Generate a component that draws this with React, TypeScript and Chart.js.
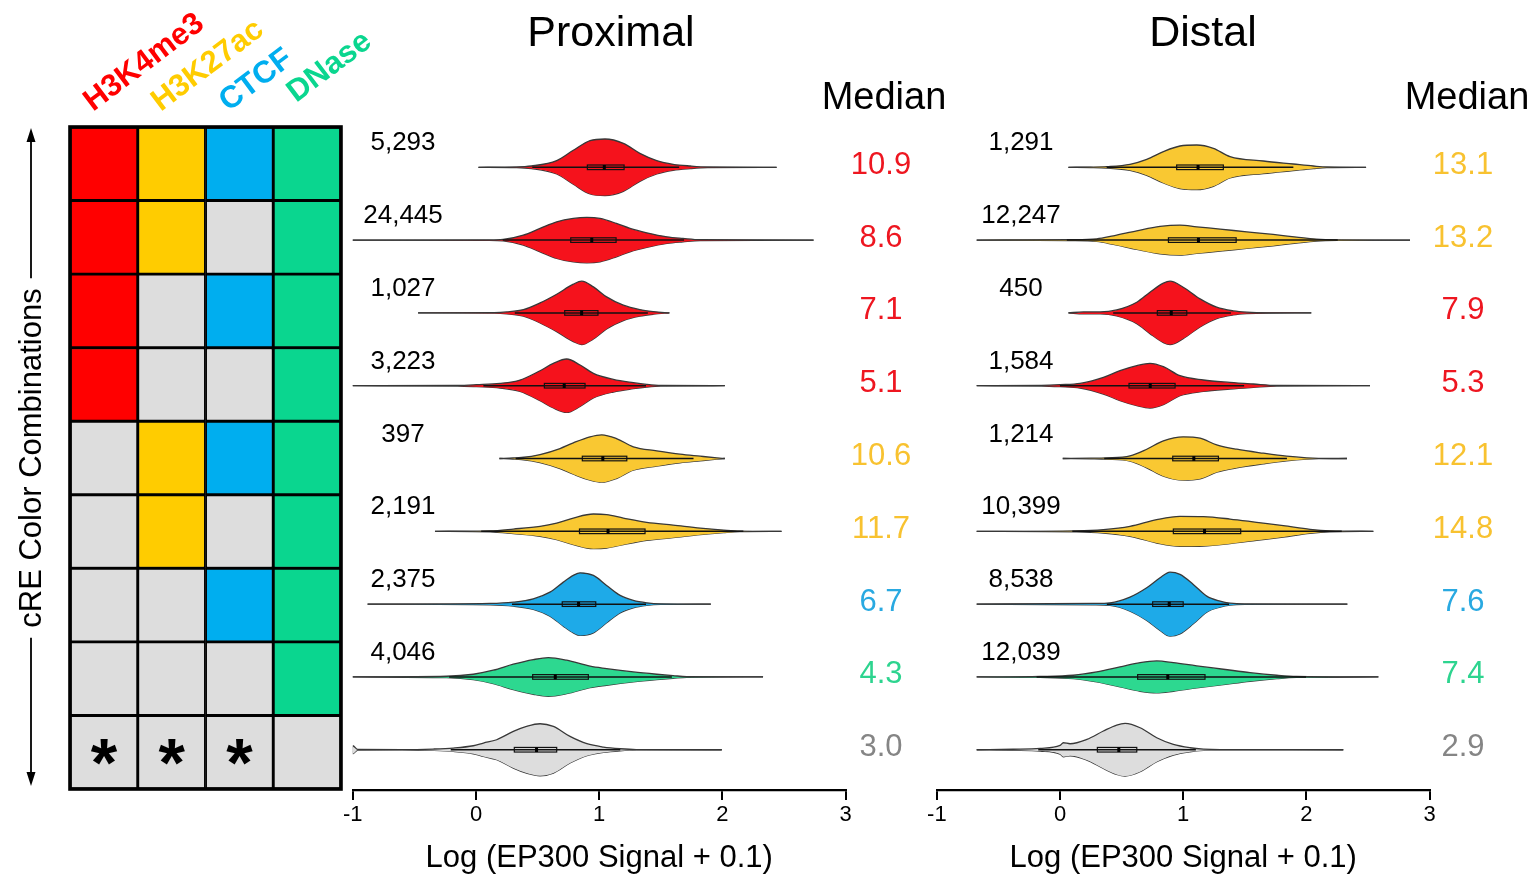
import React, { useEffect, useRef } from 'react';
import { Chart, registerables } from 'chart.js';

Chart.register(...registerables);

const W = 1534;
const H = 877;
const FONT = '"Liberation Sans", Arial, Helvetica, sans-serif';

// ---------- grid (cRE colour combinations) ----------
const MARKS = ['H3K4me3', 'H3K27ac', 'CTCF', 'DNase'];
const MARK_COLORS = ['#FF0000', '#FFCC00', '#00AEEF', '#0AD68F'];
const H3K4ME3_ON = [1, 1, 1, 1, 0, 0, 0, 0, 0];
const H3K27AC_ON = [1, 1, 0, 0, 1, 1, 0, 0, 0];
const CTCF_ON = [1, 0, 1, 0, 1, 0, 1, 0, 0];
const DNASE_ON = [1, 1, 1, 1, 1, 1, 1, 1, 0];
const LAST_ROW_SYMBOLS = ['*', '*', '*', ''];
const GRID_GRAY = '#DDDDDD';
const Y_LABEL = 'cRE Color Combinations';

// ---------- violin panels ----------
const X_TICKS = [-1, 0, 1, 2, 3];
const X_TITLE = 'Log (EP300 Signal + 0.1)';

const PROX_COUNTS = ['5,293', '24,445', '1,027', '3,223', '397', '2,191', '2,375', '4,046', ''];
const PROX_MEDIANS = [10.9, 8.6, 7.1, 5.1, 10.6, 11.7, 6.7, 4.3, 3.0];
const PROX_CLASSES = ['red', 'red', 'red', 'red', 'yellow', 'yellow', 'blue', 'green', 'gray'];
const PROX_Q1 = [0.904, 0.769, 0.72, 0.555, 0.863, 0.84, 0.7, 0.46, 0.311];
const PROX_Q3 = [1.202, 1.137, 0.99, 0.885, 1.224, 1.372, 0.972, 0.912, 0.655];
// [log value, density half-width]
const PROX_DENSITY = [
  [[0.02, 0], [0.33, 0.3], [0.45, 1.3], [0.655, 6.7], [0.79, 17], [0.926, 26.7], [1.047, 28.3], [1.196, 24], [1.33, 14], [1.467, 6.7], [1.6, 3], [1.74, 1.3], [1.88, 0.3], [2.44, 0]],
  [[-1.01, 0], [0.1, 0.2], [0.22, 0.7], [0.384, 5], [0.52, 11.7], [0.655, 18.3], [0.79, 21.7], [0.9, 22.7], [1.007, 21.7], [1.14, 16.7], [1.25, 11.7], [1.386, 7.3], [1.55, 3.3], [1.68, 1.7], [1.82, 0.4], [2.74, 0]],
  [[-0.47, 0], [0.15, 0.3], [0.25, 1], [0.385, 3.3], [0.52, 10], [0.655, 18.7], [0.79, 28.7], [0.858, 31.7], [0.953, 26], [1.06, 16], [1.196, 7.7], [1.33, 3.3], [1.44, 1.3], [1.53, 0.3], [1.57, 0]],
  [[-1.01, 0], [-0.15, 0.3], [0.005, 1], [0.195, 2.3], [0.357, 5.7], [0.52, 15], [0.628, 22.3], [0.736, 26.7], [0.845, 20.7], [0.953, 12.3], [1.115, 6.3], [1.277, 3], [1.386, 1.3], [1.5, 0.3], [2.02, 0]],
  [[0.19, 0], [0.3, 0.5], [0.37, 1], [0.52, 4], [0.682, 10], [0.79, 15.7], [0.926, 21.7], [1.02, 23.7], [1.14, 20], [1.277, 11.7], [1.467, 7.7], [1.656, 4.3], [1.82, 2.3], [1.955, 0.7], [2.02, 0]],
  [[-0.333, 0], [0.114, 0.5], [0.303, 2.3], [0.52, 5], [0.655, 8.3], [0.79, 13.3], [0.953, 17.3], [1.06, 16.7], [1.196, 13.3], [1.386, 9], [1.6, 6.3], [1.82, 3.3], [2.01, 1.3], [2.14, 0.3], [2.48, 0]],
  [[-0.88, 0], [0.114, 0.7], [0.303, 2], [0.465, 5.3], [0.6, 12], [0.709, 22], [0.79, 28.7], [0.845, 31.3], [0.953, 28.7], [1.06, 18.7], [1.17, 8.7], [1.277, 3.7], [1.386, 1.3], [1.5, 0.3], [1.906, 0]],
  [[-1.01, 0], [-0.238, 0.7], [-0.022, 2.7], [0.14, 6.7], [0.303, 12.7], [0.465, 17.3], [0.587, 19.3], [0.736, 16.7], [0.926, 10.7], [1.06, 8.3], [1.277, 5], [1.467, 2.7], [1.6, 1.3], [1.71, 0.3], [2.33, 0]],
  [[-1.006, 0], [-1.0, 4], [-0.96, 0.3], [-0.6, 0.1], [-0.347, 0.7], [-0.184, 1.7], [-0.022, 4], [0.06, 6.7], [0.168, 10], [0.303, 18.3], [0.41, 23.3], [0.52, 26], [0.628, 23.3], [0.763, 13.3], [0.9, 6], [1.034, 2.7], [1.17, 1], [1.3, 0.2], [1.995, 0]],
];

const DIST_COUNTS = ['1,291', '12,247', '450', '1,584', '1,214', '10,399', '8,538', '12,039', ''];
const DIST_MEDIANS = [13.1, 13.2, 7.9, 5.3, 12.1, 14.8, 7.6, 7.4, 2.9];
const DIST_CLASSES = ['yellow', 'yellow', 'red', 'red', 'yellow', 'yellow', 'blue', 'green', 'gray'];
const DIST_Q1 = [0.947, 0.88, 0.79, 0.56, 0.915, 0.92, 0.752, 0.63, 0.303];
const DIST_Q3 = [1.326, 1.43, 1.029, 0.934, 1.286, 1.467, 1.0, 1.177, 0.623];
const DIST_DENSITY = [
  [[0.068, 0], [0.25, 0.2], [0.379, 0.7], [0.568, 3], [0.704, 8], [0.839, 15.7], [0.974, 21.3], [1.11, 22.3], [1.245, 19], [1.38, 10.7], [1.651, 6.3], [1.894, 3.3], [2.057, 1.3], [2.166, 0.3], [2.485, 0]],
  [[-0.677, 0], [0.081, 0.5], [0.298, 1.3], [0.433, 4.3], [0.623, 9.3], [0.812, 13.7], [0.974, 15], [1.11, 13.3], [1.3, 11], [1.516, 8.3], [1.73, 5.7], [1.92, 3], [2.08, 1], [2.25, 0.3], [2.842, 0]],
  [[0.068, 0], [0.19, 1], [0.325, 1], [0.46, 3], [0.623, 10.7], [0.73, 20.7], [0.839, 29.7], [0.893, 31.7], [1.0, 25.7], [1.137, 14], [1.272, 5.7], [1.407, 2], [1.516, 0.7], [1.7, 0.1], [2.04, 0]],
  [[-0.677, 0], [-0.15, 0.3], [0.0, 1], [0.162, 2.3], [0.352, 8.3], [0.487, 15], [0.623, 20], [0.73, 22.3], [0.839, 19], [0.974, 10], [1.164, 5.7], [1.38, 3.3], [1.57, 1.7], [1.76, 0.3], [2.517, 0]],
  [[0.022, 0], [0.25, 0.3], [0.379, 0.7], [0.568, 2.7], [0.704, 9.3], [0.839, 17.7], [1.0, 21.7], [1.137, 20.3], [1.272, 13.7], [1.435, 9.3], [1.651, 5.3], [1.84, 2.3], [2.003, 0.7], [2.1, 0.2], [2.33, 0]],
  [[-0.677, 0], [0.135, 0.5], [0.352, 1.7], [0.568, 5], [0.785, 11.7], [0.974, 15], [1.164, 14.7], [1.38, 12.3], [1.597, 9], [1.813, 5.7], [2.03, 2], [2.19, 0.5], [2.544, 0]],
  [[-0.677, 0], [0.27, 0.7], [0.406, 1.3], [0.568, 7], [0.704, 16.3], [0.812, 26.3], [0.893, 32], [0.974, 29.7], [1.082, 19.7], [1.191, 8], [1.3, 3], [1.38, 1], [1.5, 0.2], [2.333, 0]],
  [[-0.677, 0], [-0.162, 0.5], [0.108, 1.7], [0.298, 5], [0.487, 10], [0.65, 14.3], [0.785, 16], [0.92, 14.3], [1.11, 11], [1.326, 7.7], [1.543, 4.3], [1.76, 1.7], [1.92, 0.5], [2.585, 0]],
  [[-0.677, 0], [-0.38, 0.5], [-0.162, 1.3], [0.0, 4.3], [0.027, 7], [0.081, 6], [0.217, 10.3], [0.352, 18.7], [0.46, 24.7], [0.528, 26.3], [0.65, 22], [0.785, 12], [0.92, 5.3], [1.056, 2], [1.164, 0.7], [1.3, 0.2], [2.3, 0]],
];

const VIOLIN_FILL: Record<string, string> = {
  red: '#F5121C',
  yellow: '#F9C832',
  blue: '#1EAAE8',
  green: '#2DD890',
  gray: '#DDDDDD',
};
const MEDIAN_TEXT: Record<string, string> = {
  red: '#EE1620',
  yellow: '#F8C230',
  blue: '#29A9E1',
  green: '#2DD48F',
  gray: '#858585',
};
const OUTLINE = '#383838';
const DENSITY_TO_ROW = 1 / 72.8; // density units -> row spacing units

const PANELS = [
  {
    title: 'Proximal', density: PROX_DENSITY, classes: PROX_CLASSES, q1: PROX_Q1, q3: PROX_Q3,
    medians: PROX_MEDIANS, counts: PROX_COUNTS,
    left: 352.8, right: 845.6, titleX: 611, countX: 403, medianX: 881, medianHeadX: 884,
  },
  {
    title: 'Distal', density: DIST_DENSITY, classes: DIST_CLASSES, q1: DIST_Q1, q3: DIST_Q3,
    medians: DIST_MEDIANS, counts: DIST_COUNTS,
    left: 936.9, right: 1429.5, titleX: 1203, countX: 1021, medianX: 1463, medianHeadX: 1467,
  },
];

function gridConfig(): any {
  const on = [H3K4ME3_ON, H3K27AC_ON, CTCF_ON, DNASE_ON];
  const rows = H3K4ME3_ON.length;
  const datasets = [];
  for (let r = 0; r < rows; r++) {
    datasets.push({
      data: MARKS.map(() => [r, r + 1]),
      backgroundColor: MARKS.map((_, c) => (on[c][r] ? MARK_COLORS[c] : GRID_GRAY)),
      borderColor: '#000',
      borderWidth: 1.8,
      borderSkipped: false,
      grouped: false,
      barPercentage: 1,
      categoryPercentage: 1,
    });
  }
  const decor = {
    id: 'gridDecor',
    afterDraw(chart: any) {
      const ctx = chart.ctx;
      const xs = chart.scales.x;
      const ys = chart.scales.y;
      const ca = chart.chartArea;
      ctx.save();
      // frame
      ctx.strokeStyle = '#000';
      ctx.lineWidth = 3.6;
      ctx.strokeRect(ca.left, ca.top, ca.right - ca.left, ca.bottom - ca.top);
      // symbols in last row
      ctx.fillStyle = '#000';
      ctx.font = `bold 68px ${FONT}`;
      ctx.textAlign = 'center';
      ctx.textBaseline = 'alphabetic';
      LAST_ROW_SYMBOLS.forEach((s, c) => {
        if (!s) return;
        const m = ctx.measureText(s);
        const cx = xs.getPixelForValue(c);
        const cy = ys.getPixelForValue(rows - 0.5);
        const y = cy + (m.actualBoundingBoxAscent - m.actualBoundingBoxDescent) / 2;
        ctx.fillText(s, cx, y);
      });
      // column headers
      ctx.font = `bold 31px ${FONT}`;
      ctx.textAlign = 'left';
      MARKS.forEach((t, c) => {
        const cx = xs.getPixelForValue(c) - 11;
        const cy = ca.top - 15 - (c === 3 ? 9 : 0);
        ctx.save();
        ctx.translate(cx, cy);
        ctx.rotate((-37 * Math.PI) / 180);
        ctx.fillStyle = MARK_COLORS[c];
        ctx.fillText(t, 0, 0);
        ctx.restore();
      });
      // left label with double arrow
      const ax = 31;
      const midY = (ca.top + ca.bottom) / 2;
      ctx.font = `31px ${FONT}`;
      const tw = ctx.measureText(Y_LABEL).width;
      ctx.save();
      ctx.translate(ax + 1, midY);
      ctx.rotate(-Math.PI / 2);
      ctx.textAlign = 'center';
      ctx.textBaseline = 'middle';
      ctx.fillStyle = '#000';
      ctx.fillText(Y_LABEL, 0, 0);
      ctx.restore();
      const top = ca.top + 1;
      const bot = ca.bottom - 3;
      ctx.strokeStyle = '#000';
      ctx.lineWidth = 1.8;
      ctx.beginPath();
      ctx.moveTo(ax, top + 8);
      ctx.lineTo(ax, midY - tw / 2 - 10);
      ctx.moveTo(ax, midY + tw / 2 + 10);
      ctx.lineTo(ax, bot - 8);
      ctx.stroke();
      ctx.beginPath();
      ctx.moveTo(ax, top);
      ctx.lineTo(ax - 4.5, top + 14);
      ctx.lineTo(ax + 4.5, top + 14);
      ctx.closePath();
      ctx.moveTo(ax, bot);
      ctx.lineTo(ax - 4.5, bot - 14);
      ctx.lineTo(ax + 4.5, bot - 14);
      ctx.closePath();
      ctx.fill();
      ctx.restore();
    },
  };
  return {
    type: 'bar',
    data: { labels: MARKS, datasets },
    options: {
      animation: false,
      responsive: false,
      devicePixelRatio: 1,
      layout: { padding: { left: 70, right: W - 341, top: 127, bottom: H - 789 } },
      scales: {
        x: { display: false },
        y: { display: false, min: 0, max: rows, reverse: true },
      },
      plugins: { legend: { display: false }, tooltip: { enabled: false } },
    },
    plugins: [decor],
  };
}

function violinConfig(p: any): any {
  const datasets: any[] = [];
  p.density.forEach((prof: number[][], i: number) => {
    const row = i + 1;
    const fill = VIOLIN_FILL[p.classes[i]];
    const common = {
      borderColor: OUTLINE,
      borderWidth: 1.3,
      pointRadius: 0,
      cubicInterpolationMode: 'monotone',
      backgroundColor: fill,
    };
    datasets.push({ ...common, data: prof.map(([x, w]) => ({ x, y: row - w * DENSITY_TO_ROW })), fill: '+1' });
    datasets.push({ ...common, data: prof.map(([x, w]) => ({ x, y: row + w * DENSITY_TO_ROW })), fill: false });
  });

  const decor = {
    id: 'violinDecor',
    afterDatasetsDraw(chart: any) {
      const ctx = chart.ctx;
      const xs = chart.scales.x;
      const ys = chart.scales.y;
      ctx.save();
      p.density.forEach((prof: number[][], i: number) => {
        const row = i + 1;
        const cy = ys.getPixelForValue(row);
        const q1 = p.q1[i];
        const q3 = p.q3[i];
        const iqr = q3 - q1;
        const lo = Math.max(prof[0][0], q1 - 1.5 * iqr);
        const hi = Math.min(prof[prof.length - 1][0], q3 + 1.5 * iqr);
        const med = Math.log10(p.medians[i] + 0.1);
        ctx.strokeStyle = '#111';
        ctx.lineWidth = 1.5;
        ctx.beginPath();
        ctx.moveTo(xs.getPixelForValue(lo), cy);
        ctx.lineTo(xs.getPixelForValue(hi), cy);
        ctx.stroke();
        const bx1 = xs.getPixelForValue(q1);
        const bx2 = xs.getPixelForValue(q3);
        ctx.lineWidth = 1.2;
        ctx.strokeRect(bx1, cy - 2.3, bx2 - bx1, 4.6);
        ctx.fillStyle = '#000';
        ctx.fillRect(xs.getPixelForValue(med) - 1.5, cy - 2.3, 3, 4.6);
      });
      // counts
      ctx.fillStyle = '#000';
      ctx.font = `26px ${FONT}`;
      ctx.textAlign = 'center';
      ctx.textBaseline = 'middle';
      p.counts.forEach((c: string, i: number) => {
        if (!c) return;
        ctx.fillText(c, p.countX, ys.getPixelForValue(i + 1) - 24);
      });
      // medians
      ctx.font = `31px ${FONT}`;
      p.medians.forEach((m: number, i: number) => {
        ctx.fillStyle = MEDIAN_TEXT[p.classes[i]];
        ctx.fillText(m.toFixed(1), p.medianX, ys.getPixelForValue(i + 1) - 2);
      });
      // headers
      ctx.fillStyle = '#000';
      ctx.textBaseline = 'alphabetic';
      ctx.font = `43px ${FONT}`;
      ctx.fillText(p.title, p.titleX, 46);
      ctx.font = `38px ${FONT}`;
      ctx.fillText('Median', p.medianHeadX, 109);
      ctx.restore();
    },
  };

  return {
    type: 'line',
    data: { datasets },
    options: {
      animation: false,
      responsive: false,
      devicePixelRatio: 1,
      layout: { padding: { left: p.left, right: W - p.right, top: 130.9, bottom: 0 } },
      scales: {
        x: {
          type: 'linear',
          min: X_TICKS[0],
          max: X_TICKS[X_TICKS.length - 1],
          position: 'bottom',
          afterBuildTicks: (s: any) => { s.ticks = X_TICKS.map((v) => ({ value: v })); },
          ticks: { color: '#000', font: { size: 22, family: FONT }, padding: 2, maxRotation: 0 },
          grid: { drawOnChartArea: false, drawTicks: true, tickLength: 10, color: '#000', lineWidth: 2 },
          border: { display: true, color: '#000', width: 2.2 },
          title: { display: true, text: X_TITLE, color: '#000', font: { size: 31, family: FONT }, padding: { top: 0, bottom: 0 } },
          afterFit: (s: any) => { s.height = H - 790; },
        },
        y: { type: 'linear', display: false, min: 0.5, max: 9.553, reverse: true },
      },
      plugins: { legend: { display: false }, tooltip: { enabled: false } },
    },
    plugins: [decor],
  };
}

export default function App() {
  const gridRef = useRef<HTMLCanvasElement>(null);
  const proxRef = useRef<HTMLCanvasElement>(null);
  const distRef = useRef<HTMLCanvasElement>(null);

  useEffect(() => {
    const charts = [
      new Chart(gridRef.current as HTMLCanvasElement, gridConfig()),
      new Chart(proxRef.current as HTMLCanvasElement, violinConfig(PANELS[0])),
      new Chart(distRef.current as HTMLCanvasElement, violinConfig(PANELS[1])),
    ];
    return () => charts.forEach((c) => c.destroy());
  }, []);

  const cs: React.CSSProperties = { position: 'absolute', left: 0, top: 0, width: W, height: H };
  return (
    <div style={{ position: 'absolute', left: 0, top: 0, width: W, height: H, background: '#fff', overflow: 'hidden' }}>
      <canvas ref={gridRef} width={W} height={H} style={cs} />
      <canvas ref={proxRef} width={W} height={H} style={cs} />
      <canvas ref={distRef} width={W} height={H} style={cs} />
    </div>
  );
}
